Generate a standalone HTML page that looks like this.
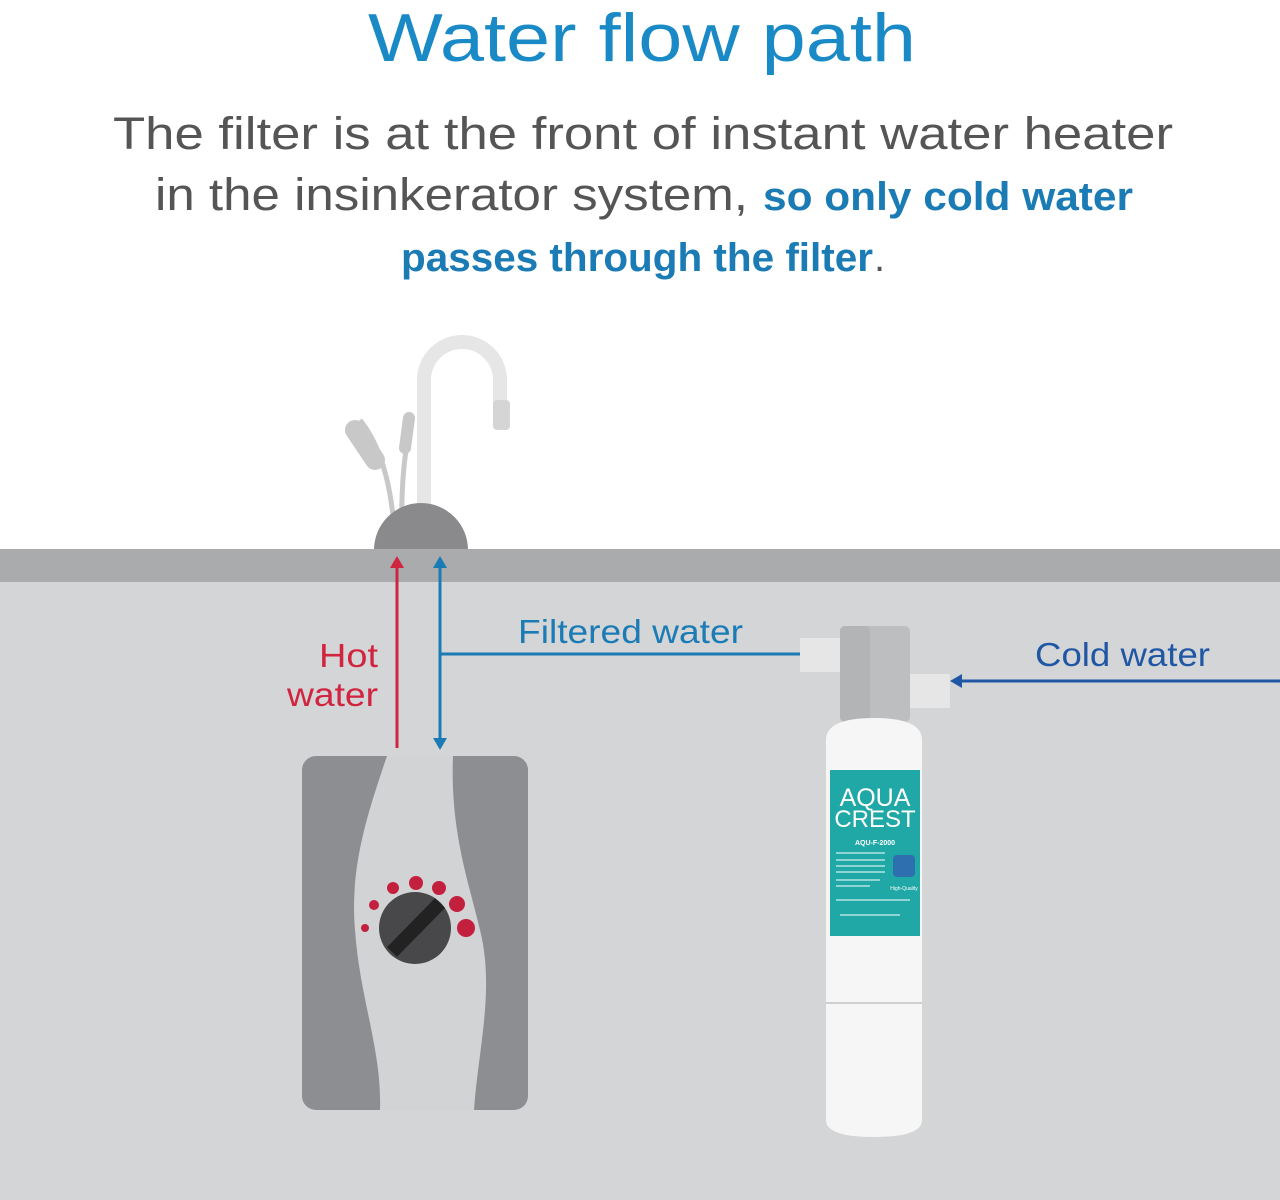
<!DOCTYPE html>
<html><head><meta charset="utf-8"><style>
html,body{margin:0;padding:0;background:#fff;}
body{width:1280px;height:1200px;position:relative;overflow:hidden;font-family:"Liberation Sans",sans-serif;}
</style></head><body>
<svg width="1280" height="1200" viewBox="0 0 1280 1200" xmlns="http://www.w3.org/2000/svg" style="position:absolute;left:0;top:0">
<rect x="0" y="0" width="1280" height="1200" fill="#fff"/>
<text x="368" y="61" textLength="548" lengthAdjust="spacingAndGlyphs" font-family="Liberation Sans, sans-serif" font-size="68" fill="#1a8ac7">Water flow path</text>
<text x="113" y="149" textLength="1060" lengthAdjust="spacingAndGlyphs" font-family="Liberation Sans, sans-serif" font-size="45" fill="#555">The filter is at the front of instant water heater</text>
<text x="155" y="210" textLength="593" lengthAdjust="spacingAndGlyphs" font-family="Liberation Sans, sans-serif" font-size="45" fill="#555">in the insinkerator system,</text>
<text x="763" y="210" textLength="370" lengthAdjust="spacingAndGlyphs" font-family="Liberation Sans, sans-serif" font-size="40" font-weight="bold" fill="#1a7bb5">so only cold water</text>
<text x="401" y="271" textLength="472" lengthAdjust="spacingAndGlyphs" font-family="Liberation Sans, sans-serif" font-size="40" font-weight="bold" fill="#1a7bb5">passes through the filter</text>
<text x="874" y="271" font-family="Liberation Sans, sans-serif" font-size="40" fill="#555">.</text>

<!-- faucet -->
<path d="M424 540 L424 380 A38 38 0 0 1 500 380 L500 410" stroke="#e6e6e7" stroke-width="14" fill="none"/>
<rect x="493" y="400" width="17" height="30" rx="4" fill="#d5d5d6"/>
<path d="M395 545 Q392 460 360 420" stroke="#c8c8c9" stroke-width="5" fill="none"/>
<path d="M402 545 Q400 470 410 430" stroke="#c8c8c9" stroke-width="5" fill="none"/>
<path d="M355 430 L375 460" stroke="#c8c8c9" stroke-width="20" stroke-linecap="round"/>
<path d="M409 418 L405 448" stroke="#c8c8c9" stroke-width="12" stroke-linecap="round"/>
<path d="M374 550 A47 47 0 0 1 468 550 Z" fill="#8a8a8c"/>

<rect x="0" y="549" width="1280" height="33" fill="#aaabad"/>
<rect x="0" y="582" width="1280" height="618" fill="#d4d5d7"/>

<!-- heater -->
<rect x="302" y="756" width="226" height="354" rx="14" fill="#8d8e91"/>
<path d="M387 756 C365 820 350 870 355 930 C360 1000 382 1050 380 1110 L474 1110 C478 1050 495 990 480 930 C468 880 450 830 453 756 Z" fill="#d2d3d4"/>
<g fill="#c3203e">
<circle cx="365" cy="928" r="4"/><circle cx="374" cy="905" r="5"/><circle cx="393" cy="888" r="6"/><circle cx="416" cy="883" r="7"/><circle cx="439" cy="888" r="7"/><circle cx="457" cy="904" r="8"/><circle cx="466" cy="928" r="9"/>
</g>
<circle cx="415" cy="928" r="36" fill="#48484a"/>
<path d="M392 952 L440 903" stroke="#222" stroke-width="14"/>

<!-- arrows -->
<line x1="397" y1="748" x2="397" y2="566" stroke="#d0243f" stroke-width="3"/>
<path d="M390 568 L397 556 L404 568 Z" fill="#d0243f"/>
<line x1="440" y1="566" x2="440" y2="740" stroke="#1a7bb5" stroke-width="3"/>
<path d="M433 568 L440 556 L447 568 Z" fill="#1a7bb5"/>
<path d="M433 738 L440 750 L447 738 Z" fill="#1a7bb5"/>
<line x1="440" y1="654" x2="800" y2="654" stroke="#1a7bb5" stroke-width="3"/>
<text x="319" y="667" textLength="59" lengthAdjust="spacingAndGlyphs" font-size="33" fill="#d0243f">Hot</text>
<text x="287" y="706" textLength="91" lengthAdjust="spacingAndGlyphs" font-size="33" fill="#d0243f">water</text>
<text x="518" y="643" textLength="225" lengthAdjust="spacingAndGlyphs" font-size="33" fill="#1a7bb5">Filtered water</text>
<line x1="960" y1="681" x2="1280" y2="681" stroke="#1f57a5" stroke-width="3"/>
<path d="M962 674 L950 681 L962 688 Z" fill="#1f57a5"/>
<text x="1035" y="666" textLength="175" lengthAdjust="spacingAndGlyphs" font-size="33" fill="#1f57a5">Cold water</text>

<!-- filter -->
<rect x="800" y="638" width="42" height="34" fill="#e6e6e7"/>
<rect x="908" y="674" width="42" height="34" fill="#e6e6e7"/>
<rect x="840" y="626" width="70" height="96" rx="5" fill="#bdbec0"/>
<rect x="840" y="626" width="30" height="96" rx="5" fill="#b3b4b6"/>
<path d="M826 740 Q826 718 874 718 Q922 718 922 740 L922 1120 Q922 1137 874 1137 Q826 1137 826 1120 Z" fill="#f6f6f6"/>
<line x1="826" y1="1003" x2="922" y2="1003" stroke="#cfcfcf" stroke-width="2"/>
<rect x="830" y="770" width="90" height="166" fill="#1fa8a6"/>
<text x="875" y="806" text-anchor="middle" font-size="25" fill="#fff">AQUA</text>
<text x="875" y="827" text-anchor="middle" font-size="24" fill="#fff">CREST</text>
<text x="875" y="845" text-anchor="middle" font-size="7" font-weight="bold" fill="#fff">AQU-F-2000</text>
<g stroke="#cfeeee" stroke-width="1.2">
<line x1="836" y1="853" x2="885" y2="853"/><line x1="836" y1="860" x2="885" y2="860"/><line x1="836" y1="866" x2="885" y2="866"/><line x1="836" y1="872" x2="885" y2="872"/><line x1="836" y1="880" x2="880" y2="880"/><line x1="836" y1="886" x2="870" y2="886"/><line x1="836" y1="900" x2="910" y2="900"/><line x1="840" y1="915" x2="900" y2="915"/>
</g>
<rect x="893" y="855" width="22" height="22" rx="4" fill="#2e6fb0"/>
<text x="904" y="890" text-anchor="middle" font-size="5" fill="#fff">High-Quality</text>
</svg>
</body></html>
